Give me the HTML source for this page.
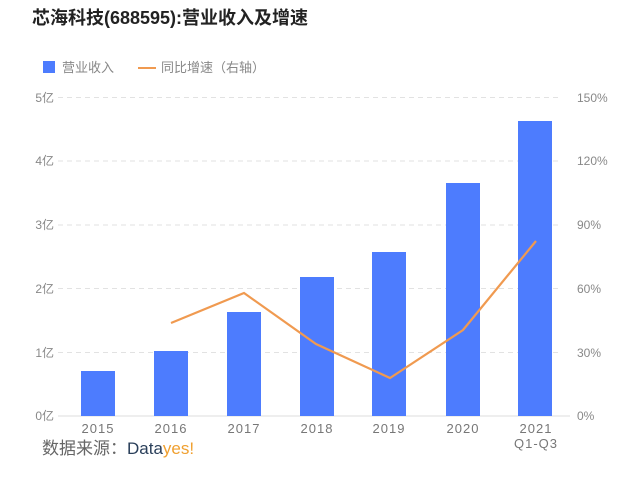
<!DOCTYPE html>
<html><head><meta charset="utf-8"><style>
body{margin:0;background:#fff;width:640px;height:480px;overflow:hidden;font-family:"Liberation Sans","Noto Sans CJK SC",sans-serif}
</style></head><body>
<svg width="640" height="480" xmlns="http://www.w3.org/2000/svg" style="font-family:'Liberation Sans','Noto Sans CJK SC',sans-serif">
<text x="32" y="24" font-size="18" font-weight="bold" fill="#222">芯海科技(688595):营业收入及增速</text>
<rect x="43" y="61" width="12" height="12" fill="#4d7cfe"/>
<text x="62" y="72" font-size="13" fill="#888">营业收入</text>
<line x1="138" y1="68" x2="156" y2="68" stroke="#f09a50" stroke-width="2"/>
<text x="161" y="72" font-size="13" fill="#888">同比增速（右轴）</text>
<g stroke="#e2e2e2" stroke-dasharray="5,4" stroke-width="1">
<line x1="58" y1="97.5" x2="560" y2="97.5"/>
<line x1="58" y1="161" x2="560" y2="161"/>
<line x1="58" y1="225" x2="560" y2="225"/>
<line x1="58" y1="288.5" x2="560" y2="288.5"/>
<line x1="58" y1="352.5" x2="560" y2="352.5"/>
</g>
<line x1="58" y1="416" x2="570" y2="416" stroke="#ddd"/>
<g font-size="12" fill="#888" text-anchor="end">
<text x="54" y="102">5亿</text><text x="54" y="165">4亿</text><text x="54" y="229">3亿</text>
<text x="54" y="293">2亿</text><text x="54" y="357">1亿</text><text x="54" y="420">0亿</text>
</g>
<g font-size="12" fill="#888">
<text x="577" y="102">150%</text><text x="577" y="165">120%</text><text x="577" y="229">90%</text>
<text x="577" y="293">60%</text><text x="577" y="357">30%</text><text x="577" y="420">0%</text>
</g>
<g fill="#4d7cfe">
<rect x="81" y="371" width="34" height="45"/>
<rect x="154" y="351" width="34" height="65"/>
<rect x="227" y="312" width="34" height="104"/>
<rect x="300" y="277" width="34" height="139"/>
<rect x="372" y="252" width="34" height="164"/>
<rect x="446" y="183" width="34" height="233"/>
<rect x="518" y="121" width="34" height="295"/>
</g>
<polyline points="171,323 244,293 316,344 390,378 463,330 536,241" fill="none" stroke="#f09a50" stroke-width="2.2"/>
<g font-size="13" fill="#777" text-anchor="middle" letter-spacing="1">
<text x="98" y="433">2015</text><text x="171" y="433">2016</text><text x="244" y="433">2017</text>
<text x="317" y="433">2018</text><text x="389" y="433">2019</text><text x="463" y="433">2020</text>
<text x="536" y="433">2021</text><text x="536" y="448">Q1-Q3</text>
</g>
<text x="42" y="454" font-size="17" fill="#666">数据来源：<tspan fill="#2a3f5a">Data</tspan><tspan fill="#f0a030">yes!</tspan></text>
</svg>
</body></html>
